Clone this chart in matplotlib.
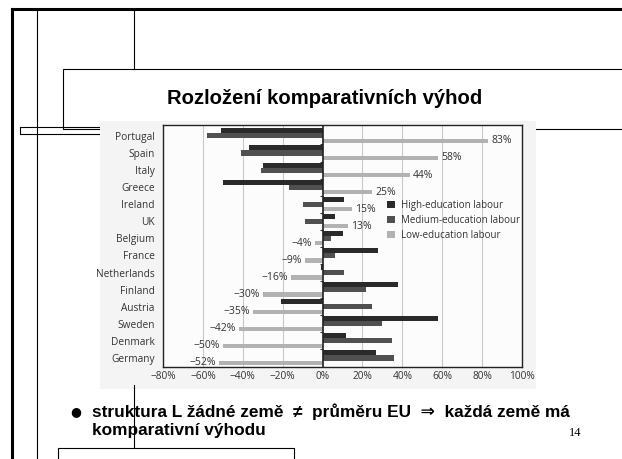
import matplotlib.pyplot as plt
import matplotlib.patches as mpatches

# values (percent deviation from EU average)
countries = ['Portugal', 'Spain', 'Italy', 'Greece', 'Ireland', 'UK', 'Belgium',
             'France', 'Netherlands', 'Finland', 'Austria', 'Sweden', 'Denmark', 'Germany']
high_edu = [-51, -37, -30, -50, 11, 6, 10, 28, -1, 38, -21, 58, 12, 27]
medium_edu = [-58, -41, -31, -17, -10, -9, 4, 6, 11, 22, 25, 30, 35, 36]
low_edu = [83, 58, 44, 25, 15, 13, -4, -9, -16, -30, -35, -42, -50, -52]
x_ticks = [-80, -60, -40, -20, 0, 20, 40, 60, 80, 100]
series_names = ['High-education labour', 'Medium-education labour', 'Low-education labour']

W, H = 622, 459
fig = plt.figure(figsize=(W / 100, H / 100), dpi=100)
fig.patch.set_facecolor('white')

# slide decorations in pixel coordinates
bg = fig.add_axes([0, 0, 1, 1], zorder=0)
bg.set_xlim(0, W)
bg.set_ylim(H, 0)
bg.axis('off')
bg.plot([12, 12], [9, H], color='black', lw=2.2)
bg.plot([12, W], [9, 9], color='black', lw=2.2)
bg.plot([37, 37], [9, H], color='black', lw=0.8)
bg.plot([134, 134], [9, 69], color='black', lw=0.8)
bg.plot([134, 134], [385, 448], color='black', lw=0.8, zorder=5)
bg.add_patch(mpatches.Rectangle((63, 69), W, 60, facecolor='white', edgecolor='black', lw=0.8))
bg.plot([100, 20, 20, 100], [127, 127, 134, 134], color='black', lw=0.8)
bg.add_patch(mpatches.Rectangle((58, 448), 236, 30, facecolor='white', edgecolor='black', lw=0.8))
bg.add_patch(mpatches.Rectangle((100, 121), 436, 268, facecolor='#f4f4f4', edgecolor='none', zorder=3))

bg.text(325, 99, 'Rozložení komparativních výhod', fontsize=14.6, fontweight='bold',
        family='Liberation Sans', ha='center', va='center')
bg.text(76, 412, '●', fontsize=9, family='DejaVu Sans', ha='center', va='center', zorder=6)
bg.text(92, 412, 'struktura L žádné země  ≠  průměru EU  ⇒  každá země má', fontsize=12.4,
        fontweight='bold', family=['Liberation Sans', 'DejaVu Sans'], va='center', zorder=6)
bg.text(92, 431, 'komparativní výhodu', fontsize=12.4, fontweight='bold',
        family='Liberation Sans', va='center', zorder=6)
bg.text(575, 433, '14', fontsize=9, family='Liberation Serif', ha='center', va='center')

# the chart itself
ax = fig.add_axes([163 / W, 1 - 367 / H, 359 / W, 242 / H], zorder=2)
ax.set_facecolor('#fcfcfc')
pos = list(range(len(countries)))
colors = ['#2a2a2a', '#505050', '#b2b2b2']
ax.barh([p - 0.29 for p in pos], high_edu, height=0.3, color=colors[0], label=series_names[0], zorder=3)
ax.barh(pos, medium_edu, height=0.3, color=colors[1], label=series_names[1], zorder=3)
ax.barh([p + 0.29 for p in pos], low_edu, height=0.25, color=colors[2], label=series_names[2], zorder=3)

for p, v in zip(pos, low_edu):
    lab = f'{v}%'.replace('-', '−')
    if v >= 0:
        ax.text(v + 1.5, p + 0.29, lab, fontsize=7.5, family='Open Sans', color='#333333',
                ha='left', va='center')
    else:
        ax.text(v - 1.5, p + 0.29, lab, fontsize=7.5, family='Open Sans', color='#333333',
                ha='right', va='center')

ax.hlines([p + 0.5 for p in pos[:-1]], -1.5, 0, color='#333333', lw=0.8, zorder=4)
ax.axvline(0, color='#222222', lw=1.2, zorder=4)
for t in x_ticks:
    if t != 0:
        ax.axvline(t, color='#c8c8c8', lw=0.8, zorder=1)

ax.set_xlim(-80, 100)
ax.set_ylim(13.53, -0.64)
ax.set_xticks(x_ticks)
ax.set_xticklabels([f'{t}%'.replace('-', '−') for t in x_ticks])
ax.set_yticks(pos)
ax.set_yticklabels(countries)
ax.tick_params(axis='both', length=0, labelsize=7.3, labelcolor='#333333')
ax.tick_params(axis='y', pad=6)
ax.tick_params(axis='x', pad=3)
for lbl in ax.get_xticklabels() + ax.get_yticklabels():
    lbl.set_family('Open Sans')
for s in ax.spines.values():
    s.set_color('#222222')
    s.set_linewidth(1.0)

ax.legend(loc='upper left', bbox_to_anchor=(0.625, 0.69), frameon=False, borderpad=0,
          borderaxespad=0, handlelength=0.8, handleheight=0.8, handletextpad=0.6,
          labelspacing=0.4, prop={'family': 'Open Sans', 'size': 7}, labelcolor='#333333')

fig.savefig('out.png', dpi=100)
